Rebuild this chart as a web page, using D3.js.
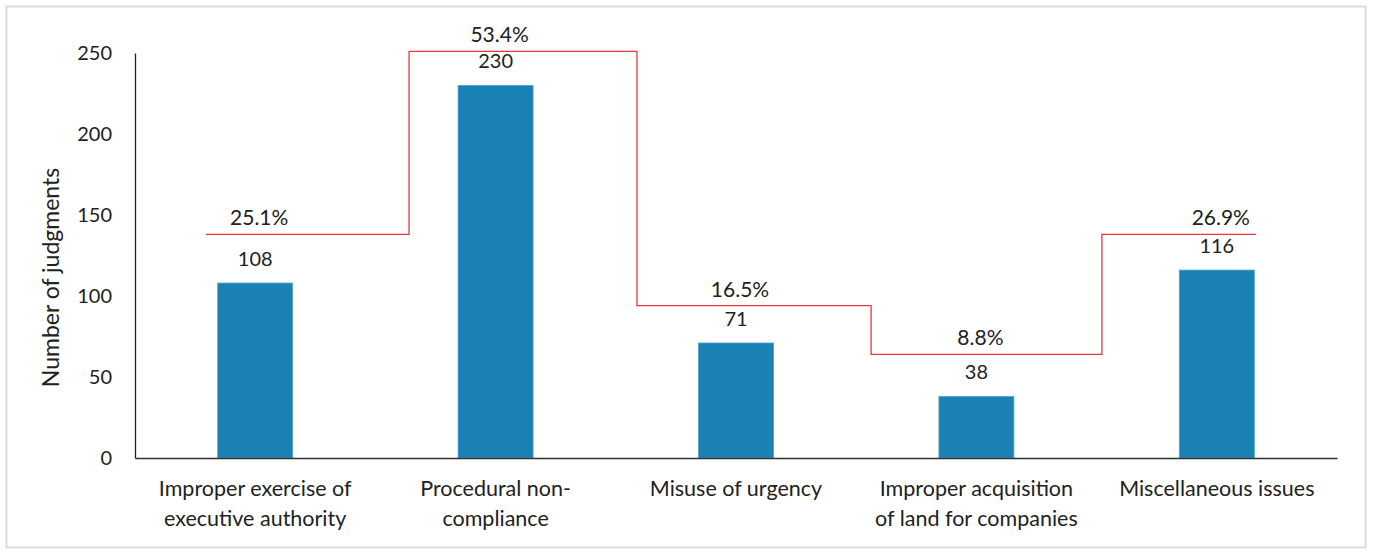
<!DOCTYPE html>
<html>
<head>
<meta charset="utf-8">
<script src="https://cdn.jsdelivr.net/npm/d3@7"></script>
<style>
  html, body { margin: 0; padding: 0; background: #fff; }
  svg { display: block; }
  text { font-family: Lato, "Open Sans", sans-serif; fill: #222; }
</style>
</head>
<body>
<svg id="chart" width="1375" height="550"></svg>
<script>
// ---- data ----
const categories = [
  ["Improper exercise of", "executive authority"],
  ["Procedural non-", "compliance"],
  ["Misuse of urgency"],
  ["Improper acquisition", "of land for companies"],
  ["Miscellaneous issues"]
];
const counts = [108, 230, 71, 38, 116];
const shareLabels = ["25.1%", "53.4%", "16.5%", "8.8%", "26.9%"];
// heights of the red step line, in axis units (as drawn)
const stepLevels = [138, 251, 94, 64, 138];
// step edges, in category-index units (0 = left of axis, 5 = right end)
const stepEdges = [0.295, 1.14, 2.088, 3.062, 4.022, 4.663];
const yTicks = [0, 50, 100, 150, 200, 250];
const yTitle = "Number of judgments";

// ---- layout ----
const svg = d3.select("#chart");
const W = 1375, H = 550;
const m = { left: 135, right: 38, top: 53, bottom: 92 };
const x0 = m.left, x1 = W - m.right;
const yB = H - m.bottom;

svg.append("rect")
  .attr("x", 6.5).attr("y", 6.5)
  .attr("width", 1359).attr("height", 541)
  .attr("fill", "none").attr("stroke", "#dcdcdc").attr("stroke-width", 2);

const idx = d3.range(categories.length);
const x = d3.scaleBand().domain(idx).range([x0, x1]).padding(0);
const xi = d3.scaleLinear().domain([0, categories.length]).range([x0, x1]);
const y = d3.scaleLinear().domain([0, 250]).range([yB, m.top]);
const barW = x.bandwidth() * 0.312;

// bars
svg.append("g").selectAll("rect").data(counts).join("rect")
  .attr("x", (d, i) => x(i) + x.bandwidth() / 2 - barW / 2)
  .attr("y", d => y(d))
  .attr("width", barW)
  .attr("height", d => y(0) - y(d))
  .attr("fill", "#1a81b4")
  .attr("stroke", "#4fa2cc").attr("stroke-width", 0.8);

// value labels
svg.append("g").selectAll("text").data(counts).join("text")
  .attr("x", (d, i) => x(i) + x.bandwidth() / 2)
  .attr("y", d => y(d) - 17)
  .attr("text-anchor", "middle")
  .attr("font-size", 20)
  .text(d => d);

// step line
const pts = [];
stepLevels.forEach((v, i) => {
  pts.push([xi(stepEdges[i]), y(v)]);
  pts.push([xi(stepEdges[i + 1]), y(v)]);
});
svg.append("path")
  .attr("d", d3.line()(pts))
  .attr("fill", "none")
  .attr("stroke", "#e8373e")
  .attr("stroke-width", 1.3);

// share labels
svg.append("g").selectAll("text").data(shareLabels).join("text")
  .attr("x", (d, i) => x(i) + x.bandwidth() / 2 + 4)
  .attr("y", (d, i) => y(stepLevels[i]) - 9)
  .attr("text-anchor", "middle")
  .attr("font-size", 21)
  .text(d => d);

// y axis
const yAxis = d3.axisLeft(y).tickValues(yTicks).tickSize(0).tickPadding(23);
const gy = svg.append("g").attr("transform", `translate(${x0},0)`).call(yAxis);
gy.select(".domain").attr("stroke", "#222").attr("stroke-width", 1.3);
gy.selectAll("text").attr("font-size", 20).attr("fill", "#222")
  .style("font-family", "Lato, 'Open Sans', sans-serif");

// x axis
const xAxis = d3.axisBottom(x).tickSize(0).tickFormat("");
const gx = svg.append("g").attr("transform", `translate(0,${yB})`).call(xAxis);
gx.select(".domain").attr("stroke", "#333").attr("stroke-width", 1.5);

// category labels
const cl = svg.append("g").selectAll("text").data(categories).join("text")
  .attr("x", (d, i) => x(i) + x.bandwidth() / 2)
  .attr("y", yB + 38)
  .attr("text-anchor", "middle")
  .attr("font-size", 21.5);
cl.selectAll("tspan").data(d => d).join("tspan")
  .attr("x", function () { return d3.select(this.parentNode).attr("x"); })
  .attr("dy", (d, j) => j === 0 ? 0 : 30)
  .text(d => d);

// y title
svg.append("text")
  .attr("transform", `translate(59,${(m.top + yB) / 2 + 22}) rotate(-90)`)
  .attr("text-anchor", "middle")
  .attr("font-size", 23)
  .text(yTitle);
</script>
</body>
</html>
